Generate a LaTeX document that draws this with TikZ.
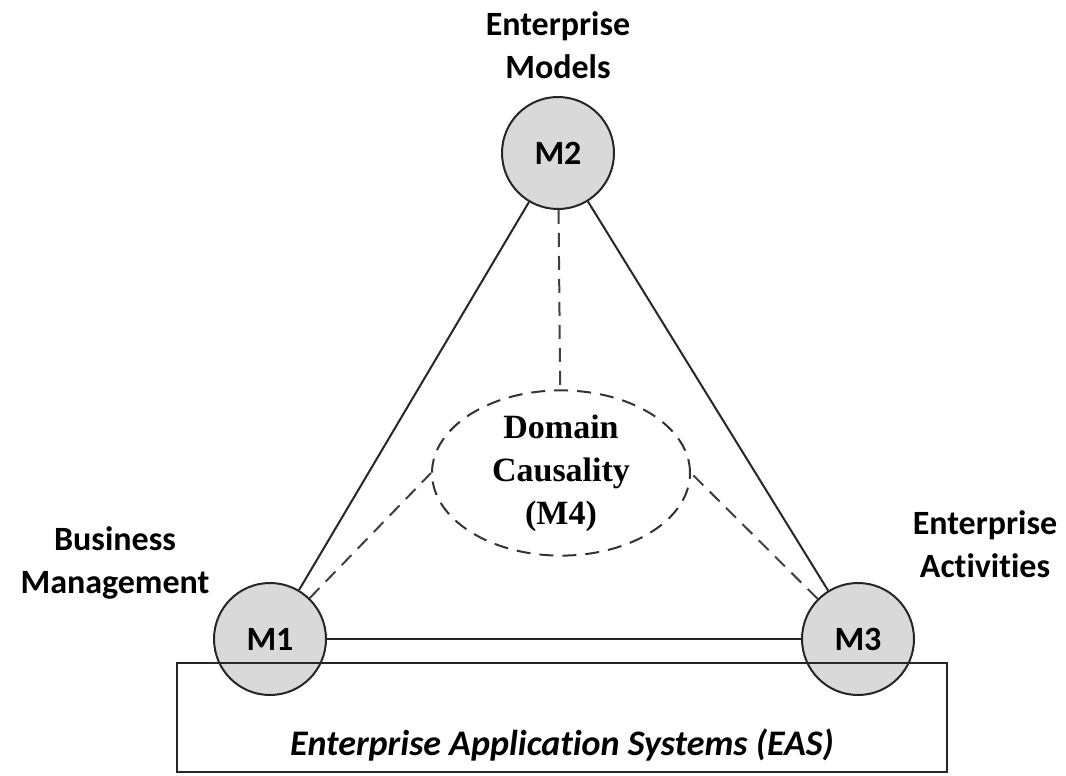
\documentclass[tikz,border=0pt]{standalone}
\usepackage{fontspec}
\setmainfont{Carlito}[Ligatures=NoCommon]
\newfontfamily\timesbf{Liberation Serif}[BoldFont={Liberation Serif Bold}]
\usepackage{tikz}
\usetikzlibrary{positioning,shapes.geometric,calc}

\begin{document}
\begin{tikzpicture}[x=1pt,y=-1pt,line width=2pt,
    dashline/.style={dash pattern=on 14pt off 9pt},
    mnode/.style={circle,draw=black!85,fill=black!15,minimum size=112pt,inner sep=0pt,
        font=\fontsize{34}{38}\selectfont\bfseries},
    tag/.style={align=center,font=\fontsize{34}{43}\selectfont\bfseries}]
                    \useasboundingbox (0,0) rectangle (1066,776);
                    \node[mnode] (m2) at (558,153) {M2};
                    \node[mnode] (m1) at (270,639) {M1};
                    \node[mnode] (m3) at (858,639) {M3};
                    \node[ellipse,draw=black!80,dashline,minimum width=258pt,minimum height=142pt,
                        inner sep=0pt,align=center,font=\fontsize{34}{43}\selectfont\timesbf\bfseries] (m4) at (561,473) {Domain\\Causality\\(M4)};
                    \node[tag] (models) at (558,45) {Enterprise\\Models};
                    \node[tag] (business) at (115,563) {Business\\Management};
                    \node[tag] (activities) at (985,544) {Enterprise\\Activities};
                    \node[draw=black!85,minimum width=770pt,minimum height=109pt,inner sep=0pt] (eas) at (562,717.5) {};
                    \node[font=\fontsize{36}{40}\selectfont\bfseries\itshape] (eastext) at (562,745) {Enterprise Application Systems (EAS)};
                    \draw[black!85] (m2) -- (m1);
                    \draw[black!85] (m2) -- (m3);
                    \draw[black!85] (m1) -- (m3);
                    \draw[black!75,dashline] (m2) -- (m4);
                    \draw[black!75,dashline] (m1) -- (m4.west);
                    \draw[black!75,dashline] (m3) -- (m4.east);
                \end{tikzpicture}
\end{document}
